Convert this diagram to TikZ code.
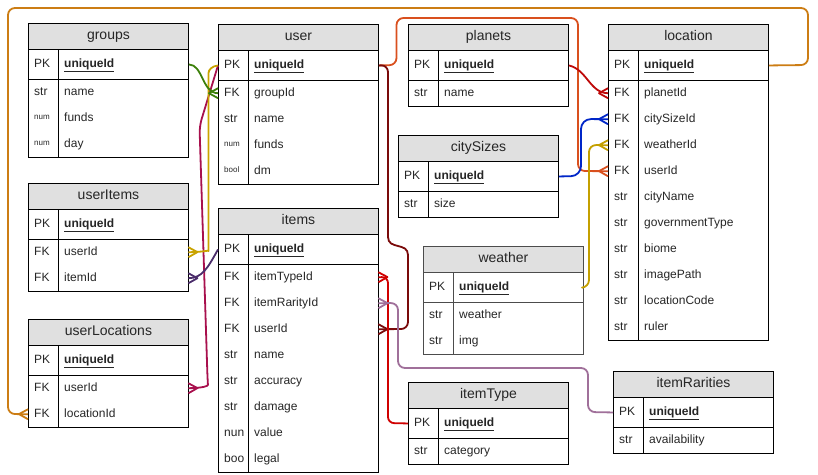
\documentclass[tikz,border=0pt]{standalone}
\usepackage{fontspec}
\setmainfont{Liberation Sans}
\usetikzlibrary{arrows.meta}

\pgfdeclarearrow{
  name = crow,
  setup code = {
    \pgfarrowssettipend{0pt}
    \pgfarrowssetlineend{0pt}
    \pgfarrowssetbackend{-9pt}
    \pgfarrowssetvisualbackend{-9pt}
    \pgfarrowshullpoint{0pt}{5pt}
    \pgfarrowshullpoint{0pt}{-5pt}
    \pgfarrowshullpoint{-9pt}{0pt}
  },
  drawing code = {
    \pgfsetdash{}{0pt}
    \pgfpathmoveto{\pgfqpoint{0pt}{5pt}}
    \pgfpathlineto{\pgfqpoint{-9pt}{0pt}}
    \pgfpathlineto{\pgfqpoint{0pt}{-5pt}}
    \pgfusepathqstroke
  }
}

\definecolor{hdrgray}{HTML}{E0E0E0}
\definecolor{txt}{HTML}{262626}
\definecolor{cGreen}{HTML}{3C800A}
\definecolor{cCrim}{HTML}{A8104D}
\definecolor{cGold}{HTML}{C9A300}
\definecolor{cOlive}{HTML}{C4A000}
\definecolor{cPurp}{HTML}{4B2D6B}
\definecolor{cDRed}{HTML}{7A0A0A}
\definecolor{cOrRed}{HTML}{D9501E}
\definecolor{cRed}{HTML}{BE0A0A}
\definecolor{cBlue}{HTML}{0026C8}
\definecolor{cAmber}{HTML}{CC7D14}
\definecolor{cRedTwo}{HTML}{D00000}
\definecolor{cMauve}{HTML}{A0709A}

\newcommand\sm[1]{\raisebox{1.5pt}{\fontsize{8}{9}\selectfont #1}}

\tikzset{
  tbl/.style={draw=black, line width=0.9pt},
  hdr/.style={tbl, fill=hdrgray, minimum width=160pt, minimum height=26pt, inner sep=0pt,
    text height=10pt, text depth=3pt, font=\fontsize{14}{16}\selectfont, text=txt},
  pkrow/.style={tbl, fill=white, minimum width=160pt, minimum height=30pt, inner sep=0pt},
  rowbox/.style={minimum width=160pt, minimum height=26pt, inner sep=0pt},
  keyt/.style={anchor=west, inner sep=0pt, text height=8.7pt, text depth=2.5pt,
    font=\fontsize{12}{14}\selectfont, text=txt},
  conn/.style={line width=1.8pt, line join=round, rounded corners=7pt},
}

\newcommand\ertable[5]{%
  \node[hdr, anchor=north west] (#1) at (#2,#3) {#4};
  \node[pkrow, anchor=north west] (#1-pk) at (#2,#3+26) {};
  \node[keyt] at (#2+6,#3+41) {PK};
  \node[keyt] at (#2+36,#3+41) {\underline{\textbf{uniqueId}}};
  \foreach \k/\f [count=\i] in {#5} {
    \node[rowbox, anchor=north west] (#1-\f) at (#2, #3+56+26*\i-26) {};
    \node[keyt] at (#2+6, #3+69+26*\i-26) {\k};
    \node[keyt] at (#2+36, #3+69+26*\i-26) {\f};
    \xdef\ernrows{\i}
  }
  \draw[tbl] (#2,#3+56) rectangle (#2+160, #3+56+26*\ernrows);
  \draw[tbl] (#2+30,#3+26) -- (#2+30,#3+56+26*\ernrows);
}

\begin{document}
\begin{tikzpicture}[x=1pt, y=-1pt]
\useasboundingbox (0,0) rectangle (818,474);

\ertable{groups}{28}{23}{groups}{str/name, \sm{num}/funds, \sm{num}/day}
\ertable{user}{218}{24}{user}{FK/groupId, str/name, \sm{num}/funds, \sm{bool}/dm}
\ertable{userItems}{28}{183}{userItems}{FK/userId, FK/itemId}
\ertable{userLocations}{28}{319}{userLocations}{FK/userId, FK/locationId}
\ertable{items}{218}{208}{items}{FK/itemTypeId, FK/itemRarityId, FK/userId, str/name, str/accuracy, str/damage, nun/value, boo/legal}
\ertable{planets}{408}{24}{planets}{str/name}
\ertable{citySizes}{398}{135}{citySizes}{str/size}
\ertable{location}{608}{24}{location}{FK/planetId, FK/citySizeId, FK/weatherId, FK/userId, str/cityName, str/governmentType, str/biome, str/imagePath, str/locationCode, str/ruler}
\begin{scope}[tbl/.append style={draw=black!70}]
\ertable{weather}{423}{246}{weather}{str/weather, str/img}
\end{scope}
\ertable{itemType}{408}{382}{itemType}{str/category}
\ertable{itemRarities}{613}{371}{itemRarities}{str/availability}

% connectors
\draw[conn, cCrim, -crow] (user-pk.west) -- (199.5,126) -- (207.5,378)
  .. controls (208,386) and (203,388) .. (userLocations-userId.east);
\draw[conn, cGold, -crow] (user-pk.west) .. controls (212,66) and (208.5,70) .. (208.5,80)
  -- (208.5,244) .. controls (208.5,250) and (205,252) .. (userItems-userId.east);
\draw[conn, cGreen, -crow] (groups-pk.east) .. controls +(14,0) and +(-16,0) .. (user-groupId.west);
\draw[conn, cPurp, -crow] (items-pk.west) .. controls +(-10,18) and +(14,0) .. (userItems-itemId.east);
\draw[conn, cOrRed, -crow] (user-pk.east) -- (396.5,65) -- (396.5,18) -- (578,18) -- (578,171)
  -- (location-userId.west);
\draw[conn, cDRed, -crow] (user-pk.east) -- (388,65) -- (388,230)
  .. controls (388,250) and (408,242) .. (408,262) -- (408,329) -- (items-userId.east);
\draw[conn, cRed, -crow] (planets-pk.east) .. controls +(18,4) and +(-18,0) .. (location-planetId.west);
\draw[conn, cBlue, -crow, rounded corners=10pt] (citySizes-pk.east) -- (581,176) -- (581,119)
  -- (location-citySizeId.west);
\draw[conn, cOlive, -crow] (weather-pk.east) -- (589,287) -- (589,145) -- (location-weatherId.west);
\draw[conn, cAmber, -crow] (location-pk.east) -- (808,65) -- (808,8) -- (8,8) -- (8,414)
  -- (userLocations-locationId.west);
\draw[conn, cRedTwo, -crow, rounded corners=6pt] (itemType-pk.west) -- (388,423) -- (388,277)
  -- (items-itemTypeId.east);
\draw[conn, cMauve, -crow] (itemRarities-pk.west) -- (588,412) -- (588,368) -- (398,368)
  -- (398,303) -- (items-itemRarityId.east);
\end{tikzpicture}
\end{document}
